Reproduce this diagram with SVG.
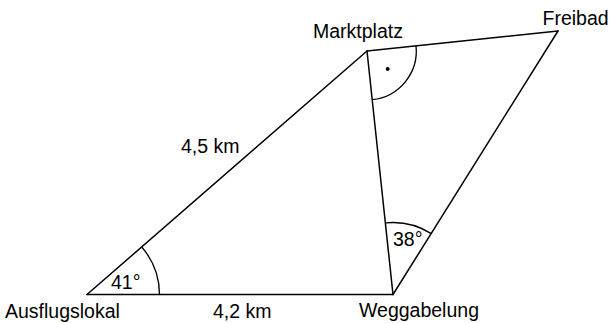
<svg xmlns="http://www.w3.org/2000/svg" width="610" height="323" viewBox="0 0 610 323">
<style>
.ln{fill:none;stroke:#000;stroke-width:1.5;stroke-linecap:round;stroke-linejoin:round}
.arc{fill:none;stroke:#000;stroke-width:1.3}
text{font-family:"Liberation Sans",Arial,sans-serif;font-size:19.5px;fill:#000}
</style>
<rect width="610" height="323" fill="#fff"/>
<g id="connectors">
<line class="ln" x1="87" y1="294.5" x2="393" y2="294.5"/>
<line class="ln" x1="87" y1="294.5" x2="367" y2="51"/>
<line class="ln" x1="367" y1="51" x2="393" y2="294.5"/>
<line class="ln" x1="367" y1="51" x2="558" y2="31"/>
<line class="ln" x1="558" y1="31" x2="393" y2="294.5"/>
<text x="181" y="153">4,5 km</text>
<text x="213" y="318">4,2 km</text>
</g>
<g id="ausflugslokal">
<path class="arc" d="M159.5,294.5 A72.5,72.5 0 0 0 141.7,247"/>
<text x="111" y="289">41°</text>
<text x="5" y="318">Ausflugslokal</text>
</g>
<g id="weggabelung">
<path class="arc" d="M385.4,222.9 A72,72 0 0 1 431.3,233.6"/>
<text x="393" y="246">38°</text>
<text x="359" y="317">Weggabelung</text>
</g>
<g id="marktplatz">
<path class="arc" d="M416,45.8 A49,49 0 0 1 372.2,99.7"/>
<circle cx="387.7" cy="69" r="2" fill="#000"/>
<text x="313" y="38">Marktplatz</text>
</g>
<g id="freibad">
<text x="542.5" y="25">Freibad</text>
</g>
</svg>
